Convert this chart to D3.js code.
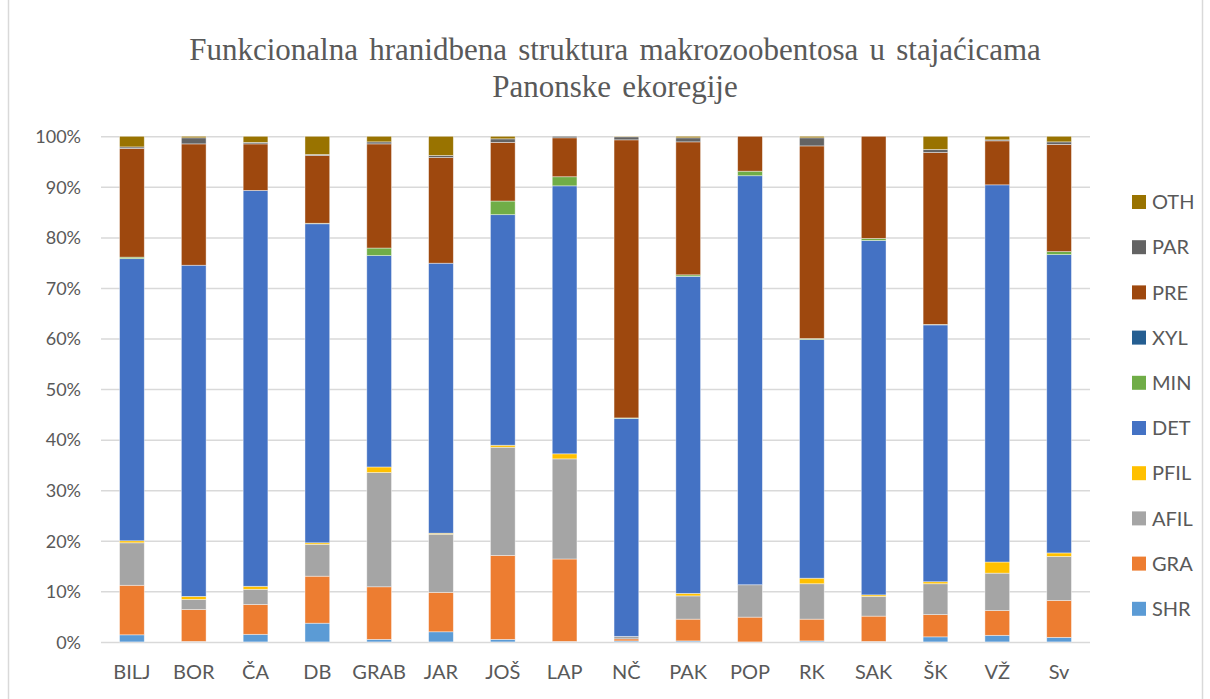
<!DOCTYPE html>
<html>
<head>
<meta charset="utf-8">
<script src="https://cdn.jsdelivr.net/npm/d3@7"></script>
<style>
    html, body { margin: 0; padding: 0; background: #ffffff; }
    svg { display: block; }
</style>
</head>
<body>
<div id="chart"></div>
<script>
    var sites = ["BILJ", "BOR", "ČA", "DB", "GRAB", "JAR", "JOŠ", "LAP", "NČ", "PAK", "POP", "RK", "SAK", "ŠK", "VŽ", "Sv"];
    var groups = ["SHR", "GRA", "AFIL", "PFIL", "DET", "MIN", "XYL", "PRE", "PAR", "OTH"];
    var groupColors = ["#5B9BD5", "#ED7D31", "#A5A5A5", "#FFC000", "#4472C4", "#70AD47", "#255E91", "#9E480E", "#636363", "#997300"];
    var tickLabels = ["0%", "10%", "20%", "30%", "40%", "50%", "60%", "70%", "80%", "90%", "100%"];

    // shares (%) per site, one array per feeding group
    var SHR  = [1.4, 0.1, 1.5, 3.7, 0.5, 2.0, 0.5, 0.1, 0.2, 0.2, 0.0, 0.2, 0.1, 1.0, 1.3, 0.9];
    var GRA  = [9.8, 6.3, 5.9, 9.3, 10.4, 7.8, 16.6, 16.3, 0.4, 4.3, 4.9, 4.3, 5.0, 4.4, 4.9, 7.3];
    var AFIL = [8.4, 2.0, 3.0, 6.3, 22.6, 11.5, 21.4, 19.8, 0.5, 4.6, 6.4, 7.0, 3.9, 6.1, 7.4, 8.7];
    var PFIL = [0.4, 0.6, 0.6, 0.3, 1.1, 0.2, 0.4, 1.0, 0.0, 0.5, 0.0, 1.1, 0.3, 0.4, 2.2, 0.7];
    var DET  = [55.8, 65.5, 78.3, 63.1, 41.8, 53.4, 45.6, 53.0, 43.1, 62.7, 80.9, 47.2, 70.1, 50.8, 74.6, 59.0];
    var MIN  = [0.3, 0.0, 0.0, 0.1, 1.5, 0.0, 2.7, 1.8, 0.1, 0.3, 0.9, 0.2, 0.4, 0.1, 0.0, 0.6];
    var XYL  = [0.0, 0.0, 0.0, 0.0, 0.0, 0.0, 0.0, 0.0, 0.0, 0.0, 0.0, 0.0, 0.0, 0.0, 0.0, 0.0];
    var PRE  = [21.5, 24.0, 9.2, 13.4, 20.6, 20.9, 11.6, 7.7, 55.0, 26.3, 6.9, 38.1, 20.2, 34.0, 8.7, 21.2];
    var PAR  = [0.3, 1.2, 0.3, 0.2, 0.4, 0.4, 0.7, 0.3, 0.6, 0.8, 0.0, 1.6, 0.0, 0.6, 0.2, 0.5];
    var OTH  = [2.1, 0.3, 1.2, 3.6, 1.1, 3.8, 0.5, 0.0, 0.1, 0.3, 0.0, 0.3, 0.0, 2.6, 0.7, 1.1];

    var seriesValues = [SHR, GRA, AFIL, PFIL, DET, MIN, XYL, PRE, PAR, OTH];

    var width = 1210, height = 699;
    var margin = {top: 136.3, right: 120, bottom: 56.7, left: 101};

    // rows normalised to 100 %
    var rows = sites.map(function (s, i) {
        var row = {site: s};
        var total = d3.sum(seriesValues, function (arr) { return arr[i]; });
        groups.forEach(function (g, k) { row[g] = seriesValues[k][i] / total; });
        return row;
    });

    var stacked = d3.stack().keys(groups)(rows);

    var svg = d3.select("#chart").append("svg")
        .attr("width", width)
        .attr("height", height);

    // outer chart frame
    svg.append("rect")
        .attr("x", 8.5).attr("y", -2)
        .attr("width", 1194).attr("height", height + 10)
        .attr("fill", "none")
        .attr("stroke", "#d9d9d9")
        .attr("stroke-width", 1.5);

    var x = d3.scaleBand()
        .domain(sites)
        .range([margin.left, 1090])
        .paddingInner(0.6)
        .paddingOuter(0.3);

    var y = d3.scaleLinear()
        .domain([0, 1])
        .range([height - margin.bottom - 0.4, margin.top]);

    var color = d3.scaleOrdinal().domain(groups).range(groupColors);

    // grid
    var yAxis = d3.axisLeft(y)
        .tickValues(d3.range(0, 1.01, 0.1))
        .tickSize(-(1090 - margin.left))
        .tickFormat(function (d, i) { return tickLabels[i]; });

    var gy = svg.append("g")
        .attr("transform", "translate(" + margin.left + ",0)")
        .call(yAxis);
    gy.select(".domain").remove();
    gy.selectAll(".tick line").attr("stroke", "#d9d9d9").attr("stroke-width", 1.5);
    gy.selectAll(".tick text")
        .attr("x", -20)
        .attr("dy", "0.35em")
        .attr("fill", "#595959")
        .style("font-family", "Lato, 'Open Sans', sans-serif")
        .style("font-size", "18px");

    // bars
    svg.append("g").selectAll("g")
        .data(stacked)
        .join("g")
        .attr("fill", function (d) { return color(d.key); })
        .selectAll("rect")
        .data(function (d) { return d; })
        .join("rect")
        .attr("x", function (d) { return x(d.data.site); })
        .attr("y", function (d) { return y(d[1]); })
        .attr("height", function (d) { return Math.max(0, y(d[0]) - y(d[1])); })
        .attr("width", x.bandwidth())
        .attr("stroke", "rgba(255,255,255,0.55)")
        .attr("stroke-width", 0.75);

    // x axis labels
    var xAxis = d3.axisBottom(x).tickSize(0).tickPadding(0);
    var gx = svg.append("g")
        .attr("transform", "translate(0," + y(0) + ")")
        .call(xAxis);
    gx.select(".domain").remove();
    gx.selectAll(".tick text")
        .attr("y", 30)
        .attr("dy", "0.35em")
        .attr("fill", "#595959")
        .style("font-family", "Lato, 'Open Sans', sans-serif")
        .style("font-size", "20px");

    // title
    var title = svg.append("text")
        .attr("text-anchor", "middle")
        .attr("fill", "#595959")
        .style("font-family", "'Liberation Serif', 'Times New Roman', serif")
        .style("font-size", "31px")
        .style("word-spacing", "3.5px");
    title.append("tspan").attr("x", 615).attr("y", 60)
        .text("Funkcionalna hranidbena struktura makrozoobentosa u stajaćicama");
    title.append("tspan").attr("x", 615).attr("y", 97)
        .text("Panonske ekoregije");

    // legend, top entry is the last series
    var legend = svg.append("g").selectAll("g")
        .data(groups.slice().reverse())
        .join("g")
        .attr("transform", function (d, i) { return "translate(1132," + (202 + i * 45.2) + ")"; });

    legend.append("rect")
        .attr("x", 0).attr("y", -7)
        .attr("width", 14).attr("height", 14)
        .attr("fill", function (d) { return color(d); });

    legend.append("text")
        .attr("x", 20)
        .attr("dy", "0.36em")
        .attr("fill", "#595959")
        .style("font-family", "Lato, 'Open Sans', sans-serif")
        .style("font-size", "20px")
        .text(function (d) { return d; });
</script>
</body>
</html>
